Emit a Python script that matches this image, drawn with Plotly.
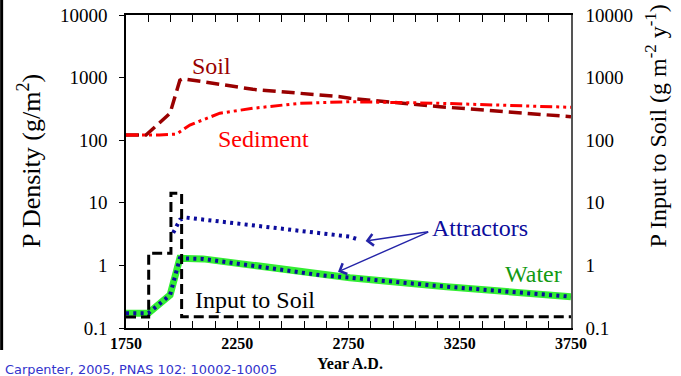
import plotly.graph_objects as go

# ---------------- data ----------------
soil_year = [1750, 1840, 1948, 1992, 2006, 2320, 2712, 2756, 3160, 3750]
soil_p = [121, 121, 270, 910, 960, 650, 495, 468, 343, 237]

sed_year = [1750, 1900, 1977, 2037, 2172, 2322, 2531, 2756, 3160, 3750]
sed_p = [121, 121, 125, 175, 270, 324, 389, 412, 389, 335]

input_year = [1750, 1852, 1852, 1952, 1952, 2000, 2000, 3750]
input_p = [0.15, 0.15, 1.57, 1.57, 14.2, 14.2, 0.151, 0.151]

water_year = [1750, 1850, 1948, 1992, 2097, 2621, 2756, 3190, 3750]
water_p = [0.172, 0.172, 0.336, 1.30, 1.27, 0.70, 0.637, 0.457, 0.316]

attr_hi_year = [1962, 1978, 1993, 2022, 2756, 2800]
attr_hi_p = [3.3, 4.4, 5.4, 5.8, 2.88, 2.55]

ytick_vals = [0.1, 1, 10, 100, 1000, 10000]
ytick_text = ["0.1", "1", "10", "100", "1000", "10000"]

SERIF = "Liberation Serif"
SOIL_C = "#990000"
SED_C = "#ff0000"
WATER_C = "#33ee33"
BLUE = "#0c0c9c"

fig = go.Figure()
fig.add_trace(go.Scatter(x=soil_year, y=soil_p, mode="lines",
                         line=dict(color=SOIL_C, width=3.5, dash="13px,6px")))
fig.add_trace(go.Scatter(x=sed_year, y=sed_p, mode="lines",
                         line=dict(color=SED_C, width=3, dash="12px,4px,3px,4px,3px,4px")))
fig.add_trace(go.Scatter(x=water_year, y=water_p, mode="lines",
                         line=dict(color=WATER_C, width=7)))
fig.add_trace(go.Scatter(x=water_year, y=water_p, mode="lines",
                         line=dict(color=BLUE, width=4, dash="3px,4.3px")))
fig.add_trace(go.Scatter(x=attr_hi_year, y=attr_hi_p, mode="lines",
                         line=dict(color=BLUE, width=4, dash="3px,4.3px")))
fig.add_trace(go.Scatter(x=input_year, y=input_p, mode="lines", yaxis="y2",
                         line=dict(color="black", width=3, dash="10px,5px")))

annotations = [
    dict(x=2136, y=3.185, text="Soil", font=dict(family=SERIF, size=24, color=SOIL_C)),
    dict(x=2370, y=2.02, text="Sediment", font=dict(family=SERIF, size=24, color=SED_C)),
    dict(x=2329, y=-0.553, text="Input to Soil", font=dict(family=SERIF, size=24, color="black")),
    dict(x=3339, y=0.597, text="Attractors", font=dict(family=SERIF, size=24, color=BLUE)),
    dict(x=3582, y=-0.137, text="Water", font=dict(family=SERIF, size=24, color="#139a13")),
]
for a in annotations:
    a.update(xref="x", yref="y", showarrow=False, xanchor="center", yanchor="middle")

arrows = [
    dict(x=2827, y=0.390, ax=3115, ay=0.541),
    dict(x=2703, y=-0.101, ax=3115, ay=0.541),
]
for a in arrows:
    a.update(xref="x", yref="y", axref="x", ayref="y", text="", showarrow=True,
             arrowhead=4, arrowsize=1.6, arrowwidth=1.4, arrowcolor="#2424a8",
             standoff=0, startstandoff=0)

W, H = 681, 376
ML, MR, MT, MB = 126, 109.5, 15, 48
PW, PH = W - ML - MR, H - MT - MB


def px(xp):
    return (xp - ML) / PW


def py(yp):
    return (H - MB - yp) / PH


others = [
    dict(xref="paper", yref="paper", x=px(30), y=py(161), text="P Density (g/m<sup>2</sup>)",
         textangle=-90, showarrow=False, font=dict(family=SERIF, size=26, color="black"),
         xanchor="center", yanchor="middle"),
    dict(xref="paper", yref="paper", x=px(657), y=py(126),
         text="P Input to Soil (g m<sup>-2</sup> y<sup>-1</sup>)",
         textangle=-90, showarrow=False, font=dict(family=SERIF, size=24, color="black"),
         xanchor="center", yanchor="middle"),
    dict(xref="paper", yref="paper", x=px(350), y=py(363), text="Year A.D.",
         showarrow=False, font=dict(family=SERIF, size=16, color="black", weight="bold"),
         xanchor="center", yanchor="middle"),
    dict(xref="paper", yref="paper", x=px(3), y=py(369),
         text="Carpenter, 2005, PNAS 102: 10002-10005",
         showarrow=False, font=dict(family="DejaVu Sans", size=12.9, color="#3333cc"),
         xanchor="left", yanchor="middle"),
]

fig.update_layout(
    width=W, height=H,
    margin=dict(l=ML, r=MR, t=MT, b=MB, pad=0, autoexpand=False),
    paper_bgcolor="white", plot_bgcolor="white",
    showlegend=False,
    annotations=annotations + arrows + others,
    shapes=[dict(type="rect", xref="paper", yref="paper", x0=px(0), x1=px(3), y0=py(350), y1=py(0),
                 fillcolor="black", line=dict(width=0), layer="above")],
    xaxis=dict(range=[1750, 3750], tick0=1750, dtick=500, ticks="inside", ticklen=7, tickwidth=1,
               tickcolor="black", showline=True, linecolor="black", linewidth=1.5,
               mirror="allticks", showgrid=False, zeroline=False, automargin=False,
               minor=dict(dtick=100, tick0=1750, ticks="inside", ticklen=5, tickwidth=1, tickcolor="black",
                          showgrid=False),
               tickfont=dict(family=SERIF, size=16, color="black", weight="bold")),
    yaxis=dict(type="log", range=[-1, 4], tickvals=ytick_vals, ticktext=ytick_text,
               ticks="outside", ticklen=5, tickwidth=1, tickcolor="black",
               showline=True, linecolor="black", linewidth=1.5, showgrid=False, zeroline=False,
               ticklabelstandoff=8, automargin=False,
               tickfont=dict(family=SERIF, size=19, color="black")),
    yaxis2=dict(type="log", range=[-1, 4], overlaying="y", side="right",
                tickvals=ytick_vals, ticktext=ytick_text, ticks="",
                showline=True, linecolor="#555555", linewidth=1.5, showgrid=False, zeroline=False,
                ticklabelstandoff=9, automargin=False,
                tickfont=dict(family=SERIF, size=19, color="black")),
)

fig.write_html("out.html", config={"displayModeBar": False},
               post_script="document.body.style.margin='0px';")
